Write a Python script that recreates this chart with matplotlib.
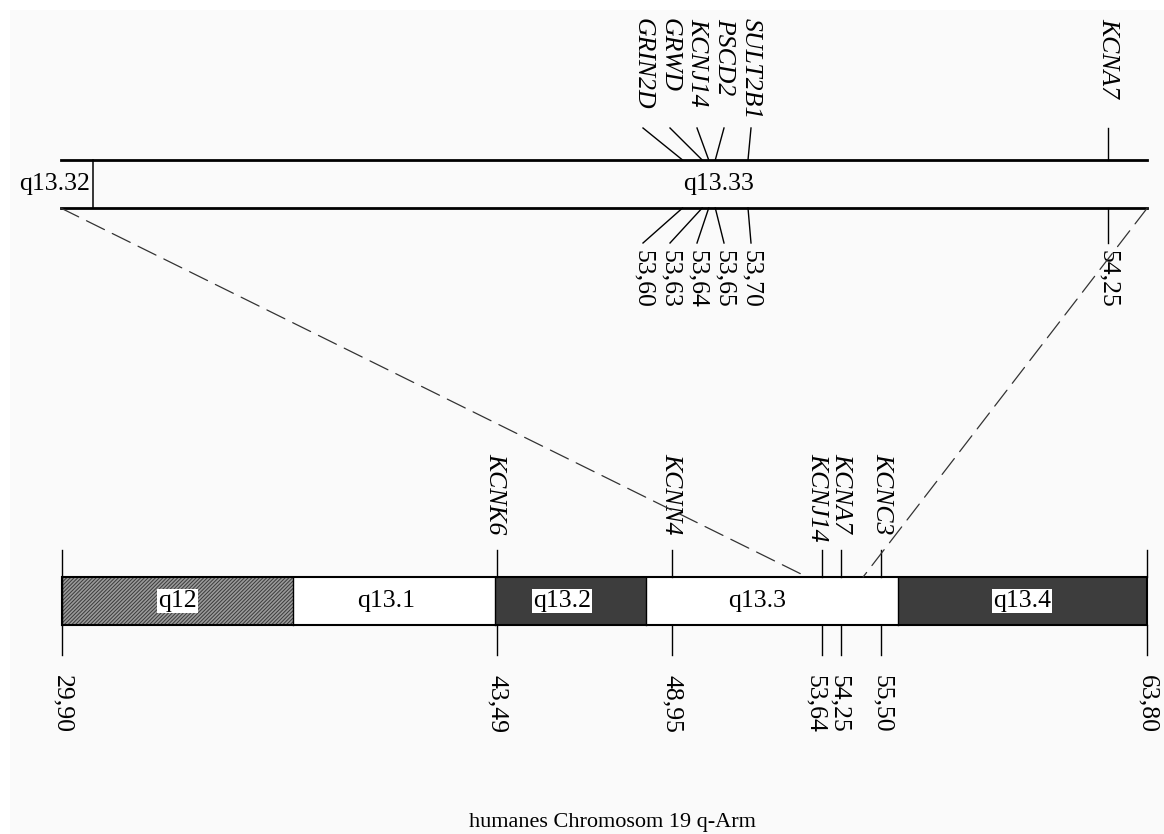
"""Chromosom 19 q-Arm mit Vergrößerung q13.33 – Nachbau als matplotlib-Grafik."""
import matplotlib; matplotlib.use("Agg")
import matplotlib.pyplot as plt
from matplotlib.patches import Rectangle, ConnectionPatch

plt.rcParams["font.family"] = ["Liberation Serif", "DejaVu Serif"]
plt.rcParams["hatch.color"] = "#3a3a3a"
plt.rcParams["hatch.linewidth"] = 0.7

W, H = 1164, 834

# ---- Daten: Banden (Mb) ----
band_names = ["q12", "q13.1", "q13.2", "q13.3", "q13.4"]
band_start = [29.90, 37.12, 43.43, 48.15, 56.03]
band_end = [37.12, 43.43, 48.15, 56.03, 63.80]
band_style = ["hatch", "white", "dark", "white", "dark"]
band_label_x = [33.50, 40.02, 45.52, 51.61, 59.90]

# Gene auf dem ganzen Arm
genes_b = ["KCNK6", "KCNN4", "KCNJ14", "KCNA7", "KCNC3"]
genes_b_pos = [43.49, 48.95, 53.64, 54.25, 55.50]
genes_b_dx = [-2, 0, -5, 0, 1]          # Pixelversatz der Beschriftung
ticks_b = [29.90, 43.49, 48.95, 53.64, 54.25, 55.50, 63.80]
ticks_b_lab = ["29,90", "43,49", "48,95", "53,64", "54,25", "55,50", "63,80"]
ticks_b_dx = [0, 0, 0, -7, -2, 1, 0]

# Ausschnitt q13.33 (oben)
zoom_start, zoom_end, zoom_split = 52.65, 54.31, 52.70
genes_t = ["GRIN2D", "GRWD", "KCNJ14", "PSCD2", "SULT2B1", "KCNA7"]
genes_t_pos = [53.60, 53.63, 53.64, 53.65, 53.70, 54.25]
genes_t_lab = ["53,60", "53,63", "53,64", "53,65", "53,70", "54,25"]
# Lage des Ausschnitts auf dem ganzen Arm
zoom_on_arm = (53.18, 54.93)

fig = plt.figure(figsize=(W / 100, H / 100), dpi=100)
fig.patch.set_facecolor("white")
fig.patches.append(Rectangle((10 / W, 0), 1, 1 - 10 / H, transform=fig.transFigure,
                             facecolor="#fafafa", edgecolor="none", zorder=-10))

FS = 18.5

# ---------- unterer Balken ----------
axb = fig.add_axes([0, 0, 1, 1])
sb = 1085 / (63.80 - 29.90)            # Pixel pro Mb
axb.set_xlim(29.90 - 62 / sb, 63.80 + (W - 1147) / sb)
axb.set_ylim(H, 0)
axb.axis("off"); axb.patch.set_alpha(0)

y0, y1 = 577, 625
for nm, a, b, st, lx in zip(band_names, band_start, band_end, band_style, band_label_x):
    if st == "hatch":
        axb.add_patch(Rectangle((a, y0), b - a, y1 - y0, facecolor="#9a9a9a",
                                hatch="/////////", edgecolor="#3a3a3a", lw=0))
        box = dict(facecolor="white", edgecolor="none", pad=1)
    elif st == "dark":
        axb.add_patch(Rectangle((a, y0), b - a, y1 - y0, facecolor="#3d3d3d", lw=0))
        box = dict(facecolor="white", edgecolor="none", pad=1)
    else:
        axb.add_patch(Rectangle((a, y0), b - a, y1 - y0, facecolor="white", lw=0))
        box = None
    axb.plot([a, a], [y0, y1], color="black", lw=1.0)
    axb.text(lx, 601, nm, ha="center", va="center", fontsize=FS, bbox=box)
axb.add_patch(Rectangle((29.90, y0), 63.80 - 29.90, y1 - y0, facecolor="none",
                        edgecolor="black", lw=1.5, zorder=3))

for v, lab, dx in zip(ticks_b, ticks_b_lab, ticks_b_dx):
    axb.plot([v, v], [550, y0], color="black", lw=1.0)
    axb.plot([v, v], [y1, 655], color="black", lw=1.0)
    axb.text(v + dx / sb, 675, lab, rotation=270, ha="center", va="top", fontsize=FS)

for g, v, dx in zip(genes_b, genes_b_pos, genes_b_dx):
    axb.text(v + dx / sb, 453, g, rotation=270, ha="center", va="top",
             fontsize=FS, style="italic")

axb.text(612 / sb + axb.get_xlim()[0], 827, "humanes Chromosom 19 q-Arm",
         ha="center", va="baseline", fontsize=16)

# ---------- oberer Ausschnitt ----------
axt = fig.add_axes([0, 0, 1, 1])
st_ = 360 / (54.25 - 53.70)            # Pixel pro Mb im Ausschnitt
axt.set_xlim(53.70 - 748 / st_, 53.70 + (W - 748) / st_)
axt.set_ylim(H, 0)
axt.axis("off"); axt.patch.set_alpha(0)

axt.plot([zoom_start, zoom_end], [160, 160], color="black", lw=2.0)
axt.plot([zoom_start, zoom_end], [208, 208], color="black", lw=2.0)
axt.plot([zoom_split, zoom_split], [160, 208], color="black", lw=1.1)
axt.text(zoom_split - 3 / st_, 184, "q13.32", ha="right", va="center", fontsize=FS)
axt.text(53.655, 184, "q13.33", ha="center", va="center", fontsize=FS)

# Beschriftungen der dicht liegenden Gene auffächern
n_close = 5
lab_x = [genes_t_pos[n_close - 1] + (3 + (i - n_close + 1) * 27) / st_ for i in range(n_close)]
lab_x.append(genes_t_pos[-1])
for g, v, lab, lx in zip(genes_t, genes_t_pos, genes_t_lab, lab_x):
    axt.plot([lx, v], [128, 160], color="black", lw=1.0)
    axt.plot([v, lx], [208, 243], color="black", lw=1.0)
    axt.text(lx, 18, g, rotation=270, ha="center", va="top", fontsize=FS, style="italic")
    axt.text(lx, 250, lab, rotation=270, ha="center", va="top", fontsize=FS)

# gestrichelte Verbindung Ausschnitt -> Arm
for xa, xb in [(zoom_start, zoom_on_arm[0]), (zoom_end, zoom_on_arm[1])]:
    con = ConnectionPatch(xyA=(xa, 208), coordsA=axt.transData,
                          xyB=(xb, y0), coordsB=axb.transData,
                          color="#333333", lw=0.9, linestyle=(0, (16, 7)))
    fig.add_artist(con)

fig.savefig("out.png", dpi=100, facecolor=fig.get_facecolor())
